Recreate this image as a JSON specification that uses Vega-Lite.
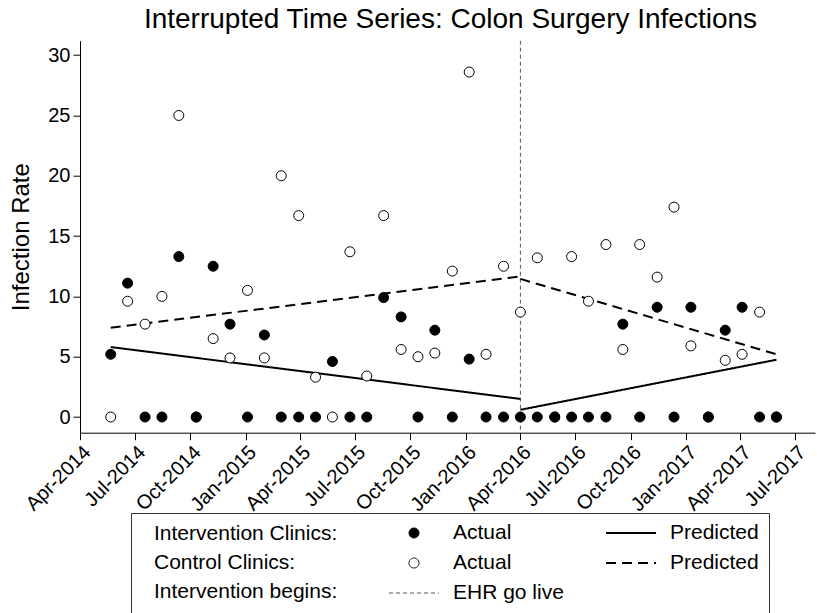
{
  "$schema": "https://vega.github.io/schema/vega-lite/v6.json",
  "width": 735,
  "height": 392,
  "autosize": {"type": "none"},
  "padding": {"left": 80, "top": 40.7, "right": 2, "bottom": 180.3},
  "background": "white",
  "title": {
    "text": "Interrupted Time Series: Colon Surgery Infections",
    "font": "Liberation Sans",
    "fontSize": 28,
    "fontWeight": "normal",
    "color": "black",
    "anchor": "middle",
    "frame": "group",
    "offset": 6,
    "dx": 3
  },
  "datasets": {
    "actual": [
      {"date": "2014-05-22", "series": "Control actual", "rate": 0},
      {"date": "2014-06-19", "series": "Control actual", "rate": 9.6},
      {"date": "2014-07-18", "series": "Control actual", "rate": 7.7},
      {"date": "2014-08-15", "series": "Control actual", "rate": 10.0},
      {"date": "2014-09-12", "series": "Control actual", "rate": 25.0},
      {"date": "2014-10-11", "series": "Control actual", "rate": 0},
      {"date": "2014-11-08", "series": "Control actual", "rate": 6.5},
      {"date": "2014-12-06", "series": "Control actual", "rate": 4.9},
      {"date": "2015-01-04", "series": "Control actual", "rate": 10.5},
      {"date": "2015-02-01", "series": "Control actual", "rate": 4.9},
      {"date": "2015-03-01", "series": "Control actual", "rate": 20.0},
      {"date": "2015-03-30", "series": "Control actual", "rate": 16.7},
      {"date": "2015-04-27", "series": "Control actual", "rate": 3.3},
      {"date": "2015-05-25", "series": "Control actual", "rate": 0},
      {"date": "2015-06-23", "series": "Control actual", "rate": 13.7},
      {"date": "2015-07-21", "series": "Control actual", "rate": 3.4},
      {"date": "2015-08-18", "series": "Control actual", "rate": 16.7},
      {"date": "2015-09-16", "series": "Control actual", "rate": 5.6},
      {"date": "2015-10-14", "series": "Control actual", "rate": 5.0},
      {"date": "2015-11-11", "series": "Control actual", "rate": 5.3},
      {"date": "2015-12-10", "series": "Control actual", "rate": 12.1},
      {"date": "2016-01-07", "series": "Control actual", "rate": 28.6},
      {"date": "2016-02-04", "series": "Control actual", "rate": 5.2},
      {"date": "2016-03-04", "series": "Control actual", "rate": 12.5},
      {"date": "2016-04-01", "series": "Control actual", "rate": 8.7},
      {"date": "2016-04-29", "series": "Control actual", "rate": 13.2},
      {"date": "2016-05-28", "series": "Control actual", "rate": 0},
      {"date": "2016-06-25", "series": "Control actual", "rate": 13.3},
      {"date": "2016-07-23", "series": "Control actual", "rate": 9.6},
      {"date": "2016-08-21", "series": "Control actual", "rate": 14.3},
      {"date": "2016-09-18", "series": "Control actual", "rate": 5.6},
      {"date": "2016-10-16", "series": "Control actual", "rate": 14.3},
      {"date": "2016-11-14", "series": "Control actual", "rate": 11.6},
      {"date": "2016-12-12", "series": "Control actual", "rate": 17.4},
      {"date": "2017-01-09", "series": "Control actual", "rate": 5.9},
      {"date": "2017-02-07", "series": "Control actual", "rate": 0},
      {"date": "2017-03-07", "series": "Control actual", "rate": 4.7},
      {"date": "2017-04-04", "series": "Control actual", "rate": 5.2},
      {"date": "2017-05-03", "series": "Control actual", "rate": 8.7},
      {"date": "2017-05-31", "series": "Control actual", "rate": 0},
      {"date": "2014-05-22", "series": "Intervention actual", "rate": 5.2},
      {"date": "2014-06-19", "series": "Intervention actual", "rate": 11.1},
      {"date": "2014-07-18", "series": "Intervention actual", "rate": 0},
      {"date": "2014-08-15", "series": "Intervention actual", "rate": 0},
      {"date": "2014-09-12", "series": "Intervention actual", "rate": 13.3},
      {"date": "2014-10-11", "series": "Intervention actual", "rate": 0},
      {"date": "2014-11-08", "series": "Intervention actual", "rate": 12.5},
      {"date": "2014-12-06", "series": "Intervention actual", "rate": 7.7},
      {"date": "2015-01-04", "series": "Intervention actual", "rate": 0},
      {"date": "2015-02-01", "series": "Intervention actual", "rate": 6.8},
      {"date": "2015-03-01", "series": "Intervention actual", "rate": 0},
      {"date": "2015-03-30", "series": "Intervention actual", "rate": 0},
      {"date": "2015-04-27", "series": "Intervention actual", "rate": 0},
      {"date": "2015-05-25", "series": "Intervention actual", "rate": 4.6},
      {"date": "2015-06-23", "series": "Intervention actual", "rate": 0},
      {"date": "2015-07-21", "series": "Intervention actual", "rate": 0},
      {"date": "2015-08-18", "series": "Intervention actual", "rate": 9.9},
      {"date": "2015-09-16", "series": "Intervention actual", "rate": 8.3},
      {"date": "2015-10-14", "series": "Intervention actual", "rate": 0},
      {"date": "2015-11-11", "series": "Intervention actual", "rate": 7.2},
      {"date": "2015-12-10", "series": "Intervention actual", "rate": 0},
      {"date": "2016-01-07", "series": "Intervention actual", "rate": 4.8},
      {"date": "2016-02-04", "series": "Intervention actual", "rate": 0},
      {"date": "2016-03-04", "series": "Intervention actual", "rate": 0},
      {"date": "2016-04-01", "series": "Intervention actual", "rate": 0},
      {"date": "2016-04-29", "series": "Intervention actual", "rate": 0},
      {"date": "2016-05-28", "series": "Intervention actual", "rate": 0},
      {"date": "2016-06-25", "series": "Intervention actual", "rate": 0},
      {"date": "2016-07-23", "series": "Intervention actual", "rate": 0},
      {"date": "2016-08-21", "series": "Intervention actual", "rate": 0},
      {"date": "2016-09-18", "series": "Intervention actual", "rate": 7.7},
      {"date": "2016-10-16", "series": "Intervention actual", "rate": 0},
      {"date": "2016-11-14", "series": "Intervention actual", "rate": 9.1},
      {"date": "2016-12-12", "series": "Intervention actual", "rate": 0},
      {"date": "2017-01-09", "series": "Intervention actual", "rate": 9.1},
      {"date": "2017-02-07", "series": "Intervention actual", "rate": 0},
      {"date": "2017-03-07", "series": "Intervention actual", "rate": 7.2},
      {"date": "2017-04-04", "series": "Intervention actual", "rate": 9.1},
      {"date": "2017-05-03", "series": "Intervention actual", "rate": 0},
      {"date": "2017-05-31", "series": "Intervention actual", "rate": 0}
    ],
    "predicted": [
      {"date": "2014-05-22", "series": "Intervention predicted", "segment": "pre", "rate": 5.8},
      {"date": "2016-04-01", "series": "Intervention predicted", "segment": "pre", "rate": 1.5},
      {"date": "2016-04-01", "series": "Intervention predicted", "segment": "post", "rate": 0.6},
      {"date": "2017-05-31", "series": "Intervention predicted", "segment": "post", "rate": 4.75},
      {"date": "2014-05-22", "series": "Control predicted", "segment": "pre", "rate": 7.4},
      {"date": "2016-04-01", "series": "Control predicted", "segment": "pre", "rate": 11.65},
      {"date": "2016-04-01", "series": "Control predicted", "segment": "post", "rate": 11.45},
      {"date": "2017-05-31", "series": "Control predicted", "segment": "post", "rate": 5.2}
    ],
    "events": [
      {"date": "2016-04-01", "event": "EHR go live"}
    ]
  },
  "layer": [
    {
      "data": {"name": "events"},
      "mark": {"type": "rule", "color": "#555555", "strokeWidth": 1, "strokeDash": [4, 3]},
      "encoding": {
        "x": {"field": "date", "type": "temporal"}
      }
    },
    {
      "data": {"name": "predicted"},
      "mark": {"type": "line", "strokeCap": "butt"},
      "encoding": {
        "x": {"field": "date", "type": "temporal"},
        "y": {"field": "rate", "type": "quantitative"},
        "detail": {"field": "segment", "type": "nominal"},
        "stroke": {"field": "series", "type": "nominal",
          "scale": {"domain": ["Intervention actual", "Control actual", "EHR go live", "Intervention predicted", "Control predicted"], "range": ["black", "black", "#555555", "black", "black"]},
          "legend": {"orient": "none", "legendX": 51, "legendY": 472.3, "columns": 2, "title": ["Intervention Clinics:", "Control Clinics:", "Intervention begins:"], "titleOrient": "left", "titleAnchor": "start", "titleBaseline": "top", "titleAlign": "left", "titleLineHeight": 29, "titleFont": "Liberation Sans", "titleFontSize": 21, "titleFontWeight": "normal", "titleColor": "black", "titleLimit": 400, "titlePadding": 63, "labelFont": "Liberation Sans", "labelFontSize": 21, "labelColor": "black", "labelOffset": 13, "labelLimit": 300, "labelExpr": "indexof(datum.label, 'actual') >= 0 ? 'Actual' : (indexof(datum.label, 'predicted') >= 0 ? 'Predicted' : datum.label)", "clipHeight": 20, "rowPadding": 9, "columnPadding": 41, "padding": 10, "strokeColor": "#333333", "encode": {"title": {"update": {"dx": {"value": 13}}}}}},
        "strokeDash": {"field": "series", "type": "nominal",
          "scale": {"domain": ["Intervention actual", "Control actual", "EHR go live", "Intervention predicted", "Control predicted"], "range": [[1, 0], [1, 0], [4, 3], [1, 0], [10, 6]]},
          "legend": {"orient": "none", "legendX": 51, "legendY": 472.3, "columns": 2, "title": ["Intervention Clinics:", "Control Clinics:", "Intervention begins:"], "titleOrient": "left", "titleAnchor": "start", "titleBaseline": "top", "titleAlign": "left", "titleLineHeight": 29, "titleFont": "Liberation Sans", "titleFontSize": 21, "titleFontWeight": "normal", "titleColor": "black", "titleLimit": 400, "titlePadding": 63, "labelFont": "Liberation Sans", "labelFontSize": 21, "labelColor": "black", "labelOffset": 13, "labelLimit": 300, "labelExpr": "indexof(datum.label, 'actual') >= 0 ? 'Actual' : (indexof(datum.label, 'predicted') >= 0 ? 'Predicted' : datum.label)", "clipHeight": 20, "rowPadding": 9, "columnPadding": 41, "padding": 10, "strokeColor": "#333333", "encode": {"title": {"update": {"dx": {"value": 13}}}}}},
        "strokeWidth": {"field": "series", "type": "nominal",
          "scale": {"type": "ordinal", "domain": ["Intervention actual", "Control actual", "EHR go live", "Intervention predicted", "Control predicted"], "range": [1, 1, 1, 2, 2]},
          "legend": {"orient": "none", "legendX": 51, "legendY": 472.3, "columns": 2, "title": ["Intervention Clinics:", "Control Clinics:", "Intervention begins:"], "titleOrient": "left", "titleAnchor": "start", "titleBaseline": "top", "titleAlign": "left", "titleLineHeight": 29, "titleFont": "Liberation Sans", "titleFontSize": 21, "titleFontWeight": "normal", "titleColor": "black", "titleLimit": 400, "titlePadding": 63, "labelFont": "Liberation Sans", "labelFontSize": 21, "labelColor": "black", "labelOffset": 13, "labelLimit": 300, "labelExpr": "indexof(datum.label, 'actual') >= 0 ? 'Actual' : (indexof(datum.label, 'predicted') >= 0 ? 'Predicted' : datum.label)", "clipHeight": 20, "rowPadding": 9, "columnPadding": 41, "padding": 10, "strokeColor": "#333333", "encode": {"title": {"update": {"dx": {"value": 13}}}}}}
      }
    },
    {
      "data": {"name": "actual"},
      "mark": {"type": "point", "filled": true, "opacity": 1},
      "encoding": {
        "x": {"field": "date", "type": "temporal",
          "scale": {"type": "utc", "domain": [{"year": 2014, "month": 4, "date": 1, "utc": true}, {"year": 2017, "month": 8, "date": 3, "utc": true}]},
          "axis": {"title": null, "format": "%b-%Y", "labelAngle": -45, "labelPadding": 2, "labelOverlap": false, "labelBound": false, "labelFlush": false,
            "values": [
              {"year": 2014, "month": 4, "date": 1, "utc": true},
              {"year": 2014, "month": 7, "date": 1, "utc": true},
              {"year": 2014, "month": 10, "date": 1, "utc": true},
              {"year": 2015, "month": 1, "date": 1, "utc": true},
              {"year": 2015, "month": 4, "date": 1, "utc": true},
              {"year": 2015, "month": 7, "date": 1, "utc": true},
              {"year": 2015, "month": 10, "date": 1, "utc": true},
              {"year": 2016, "month": 1, "date": 1, "utc": true},
              {"year": 2016, "month": 4, "date": 1, "utc": true},
              {"year": 2016, "month": 7, "date": 1, "utc": true},
              {"year": 2016, "month": 10, "date": 1, "utc": true},
              {"year": 2017, "month": 1, "date": 1, "utc": true},
              {"year": 2017, "month": 4, "date": 1, "utc": true},
              {"year": 2017, "month": 7, "date": 1, "utc": true}
            ]}},
        "y": {"field": "rate", "type": "quantitative",
          "scale": {"domain": [-1.3, 31.2], "nice": false, "zero": false},
          "axis": {"title": "Infection Rate", "values": [0, 5, 10, 15, 20, 25, 30], "labelPadding": 3, "titlePadding": 14, "titleFontSize": 24}},
        "shape": {"field": "series", "type": "nominal",
          "scale": {"domain": ["Intervention actual", "Control actual", "EHR go live", "Intervention predicted", "Control predicted"], "range": ["circle", "circle", "stroke", "stroke", "stroke"]},
          "legend": {"orient": "none", "legendX": 51, "legendY": 472.3, "columns": 2, "title": ["Intervention Clinics:", "Control Clinics:", "Intervention begins:"], "titleOrient": "left", "titleAnchor": "start", "titleBaseline": "top", "titleAlign": "left", "titleLineHeight": 29, "titleFont": "Liberation Sans", "titleFontSize": 21, "titleFontWeight": "normal", "titleColor": "black", "titleLimit": 400, "titlePadding": 63, "labelFont": "Liberation Sans", "labelFontSize": 21, "labelColor": "black", "labelOffset": 13, "labelLimit": 300, "labelExpr": "indexof(datum.label, 'actual') >= 0 ? 'Actual' : (indexof(datum.label, 'predicted') >= 0 ? 'Predicted' : datum.label)", "clipHeight": 20, "rowPadding": 9, "columnPadding": 41, "padding": 10, "strokeColor": "#333333", "encode": {"title": {"update": {"dx": {"value": 13}}}}}},
        "fill": {"field": "series", "type": "nominal",
          "scale": {"domain": ["Intervention actual", "Control actual", "EHR go live", "Intervention predicted", "Control predicted"], "range": ["black", "white", "transparent", "transparent", "transparent"]},
          "legend": {"orient": "none", "legendX": 51, "legendY": 472.3, "columns": 2, "title": ["Intervention Clinics:", "Control Clinics:", "Intervention begins:"], "titleOrient": "left", "titleAnchor": "start", "titleBaseline": "top", "titleAlign": "left", "titleLineHeight": 29, "titleFont": "Liberation Sans", "titleFontSize": 21, "titleFontWeight": "normal", "titleColor": "black", "titleLimit": 400, "titlePadding": 63, "labelFont": "Liberation Sans", "labelFontSize": 21, "labelColor": "black", "labelOffset": 13, "labelLimit": 300, "labelExpr": "indexof(datum.label, 'actual') >= 0 ? 'Actual' : (indexof(datum.label, 'predicted') >= 0 ? 'Predicted' : datum.label)", "clipHeight": 20, "rowPadding": 9, "columnPadding": 41, "padding": 10, "strokeColor": "#333333", "encode": {"title": {"update": {"dx": {"value": 13}}}}}},
        "stroke": {"field": "series", "type": "nominal",
          "scale": {"domain": ["Intervention actual", "Control actual", "EHR go live", "Intervention predicted", "Control predicted"], "range": ["black", "black", "#555555", "black", "black"]},
          "legend": {"orient": "none", "legendX": 51, "legendY": 472.3, "columns": 2, "title": ["Intervention Clinics:", "Control Clinics:", "Intervention begins:"], "titleOrient": "left", "titleAnchor": "start", "titleBaseline": "top", "titleAlign": "left", "titleLineHeight": 29, "titleFont": "Liberation Sans", "titleFontSize": 21, "titleFontWeight": "normal", "titleColor": "black", "titleLimit": 400, "titlePadding": 63, "labelFont": "Liberation Sans", "labelFontSize": 21, "labelColor": "black", "labelOffset": 13, "labelLimit": 300, "labelExpr": "indexof(datum.label, 'actual') >= 0 ? 'Actual' : (indexof(datum.label, 'predicted') >= 0 ? 'Predicted' : datum.label)", "clipHeight": 20, "rowPadding": 9, "columnPadding": 41, "padding": 10, "strokeColor": "#333333", "encode": {"title": {"update": {"dx": {"value": 13}}}}}},
        "size": {"field": "series", "type": "nominal",
          "scale": {"type": "ordinal", "domain": ["Intervention actual", "Control actual", "EHR go live", "Intervention predicted", "Control predicted"], "range": [100, 100, 2500, 2500, 2500]},
          "legend": {"orient": "none", "legendX": 51, "legendY": 472.3, "columns": 2, "title": ["Intervention Clinics:", "Control Clinics:", "Intervention begins:"], "titleOrient": "left", "titleAnchor": "start", "titleBaseline": "top", "titleAlign": "left", "titleLineHeight": 29, "titleFont": "Liberation Sans", "titleFontSize": 21, "titleFontWeight": "normal", "titleColor": "black", "titleLimit": 400, "titlePadding": 63, "labelFont": "Liberation Sans", "labelFontSize": 21, "labelColor": "black", "labelOffset": 13, "labelLimit": 300, "labelExpr": "indexof(datum.label, 'actual') >= 0 ? 'Actual' : (indexof(datum.label, 'predicted') >= 0 ? 'Predicted' : datum.label)", "clipHeight": 20, "rowPadding": 9, "columnPadding": 41, "padding": 10, "strokeColor": "#333333", "encode": {"title": {"update": {"dx": {"value": 13}}}}}},
        "strokeWidth": {"field": "series", "type": "nominal",
          "scale": {"type": "ordinal", "domain": ["Intervention actual", "Control actual", "EHR go live", "Intervention predicted", "Control predicted"], "range": [1, 1, 1, 2, 2]},
          "legend": {"orient": "none", "legendX": 51, "legendY": 472.3, "columns": 2, "title": ["Intervention Clinics:", "Control Clinics:", "Intervention begins:"], "titleOrient": "left", "titleAnchor": "start", "titleBaseline": "top", "titleAlign": "left", "titleLineHeight": 29, "titleFont": "Liberation Sans", "titleFontSize": 21, "titleFontWeight": "normal", "titleColor": "black", "titleLimit": 400, "titlePadding": 63, "labelFont": "Liberation Sans", "labelFontSize": 21, "labelColor": "black", "labelOffset": 13, "labelLimit": 300, "labelExpr": "indexof(datum.label, 'actual') >= 0 ? 'Actual' : (indexof(datum.label, 'predicted') >= 0 ? 'Predicted' : datum.label)", "clipHeight": 20, "rowPadding": 9, "columnPadding": 41, "padding": 10, "strokeColor": "#333333", "encode": {"title": {"update": {"dx": {"value": 13}}}}}}
      }
    }
  ],
  "config": {
    "view": {"stroke": null},
    "axis": {
      "grid": false,
      "domainColor": "black",
      "domainWidth": 1,
      "tickColor": "black",
      "tickSize": 7,
      "labelFont": "Liberation Sans",
      "labelFontSize": 20,
      "labelColor": "black",
      "titleFont": "Liberation Sans",
      "titleFontSize": 23,
      "titleFontWeight": "normal",
      "titleColor": "black"
    }
  }
}
